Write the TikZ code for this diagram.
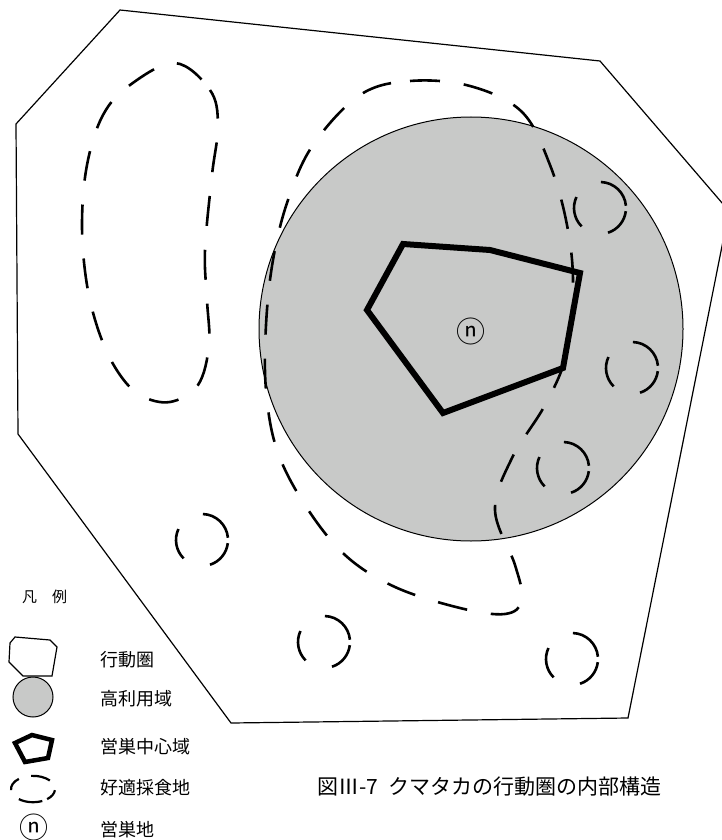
\documentclass[tikz,border=0pt]{standalone}
\usepackage{fontspec}
\setmainfont{Noto Sans CJK JP}
\usepackage{xcolor}
\usepackage{tikz}
\usetikzlibrary{positioning}

\definecolor{usegray}{RGB}{200,201,200}

\begin{document}
\begin{tikzpicture}[
  x=1pt, y=-1pt,
  font=\fontsize{18}{22}\selectfont,
  homerange/.style={draw,line width=1.2pt,line join=miter},
  core/.style={draw,line width=6pt,line join=miter},
  heavy/.style={draw,fill=usegray,line width=1pt},
  forage/.style={draw,line width=2.6pt,dash pattern=on 30pt off 24pt},
  spotarc/.style={line width=2.6pt},
  spot/.pic={
    \draw[spotarc] (-88:26) arc (-88:-5:26);
    \draw[spotarc] (7:26) arc (7:72:26);
    \draw[spotarc] (135:26) arc (135:205:26);
  },
  nestmark/.style={inner sep=0pt,font=\fontsize{29}{29}\selectfont},
  legtext/.style={anchor=west,inner sep=0pt}
]
\useasboundingbox (0,0) rectangle (721,840);

% high use area
\fill[usegray] (471,329) circle (212);
\draw[line width=1pt] (471,329) circle (212);

% home range
\draw[homerange] (120,10) -- (600,61) -- (729,211) -- (628,718) -- (231,723)
  -- (18,434) -- (16,124) -- cycle;

% nest centre area
\draw[core] (403,244) -- (490,250) -- (580,273) -- (563,368) -- (443,413)
  -- (367,310) -- cycle;
\node[nestmark] (nest) at (471,331) {ⓝ};

% feeding grounds
\draw[forage] plot[smooth cycle,tension=0.6] coordinates {
  (360,95) (410,81) (470,86) (522,112) (550,165) (567,225) (573,285)
  (566,355) (545,405) (512,458) (495,510) (515,565) (522,600) (505,614)
  (460,608) (395,587) (345,555) (305,505) (277,450) (266,390) (266,325)
  (273,260) (288,200) (313,145)};
\draw[forage] plot[smooth cycle,tension=0.6] coordinates {
  (175,63) (210,90) (218,125) (212,175) (205,250) (207,300) (209,345)
  (198,385) (170,402) (140,395) (118,372) (100,335) (87,285) (82,225)
  (87,165) (103,115) (130,85)};
\foreach \p in {(600,208),(632,368),(563,468),(202,540),(324,642),(572,659)}
  \pic at \p {spot};

% legend
\node[legtext,font=\fontsize{15}{18}\selectfont] (legend) at (22,597) {凡　例};
\draw[line width=1.2pt] (15,637) -- (50,640) -- (57,647) -- (52,676)
  -- (23,676) -- (9,662) -- (10,643) -- cycle;
\node[legtext] (lrange) at (100,660) {行動圏};
\draw[heavy] (33,697) circle (20);
\node[legtext] (lhigh) at (100,699) {高利用域};
\draw[line width=4.5pt,line join=miter] (15,743) -- (32,735) -- (52,740)
  -- (48,758) -- (25,762) -- cycle;
\node[legtext] (lcore) at (100,747) {営巣中心域};
\begin{scope}[shift={(33,789)},yscale=0.6,line width=2.2pt]
  \draw (-95:22) arc (-95:-40:22);
  \draw (-130:22) arc (-130:-185:22);
  \draw (130:22) arc (130:65:22);
  \draw (5:22) arc (5:50:22);
\end{scope}
\node[legtext] (lfeed) at (100,788) {好適採食地};
\node[nestmark] (lnestsym) at (34,827) {ⓝ};
\node[legtext] (lnest) at (100,830) {営巣地};

% caption
\node[anchor=west,inner sep=0pt,font=\fontsize{21}{24}\selectfont] (caption)
  at (317,787) {図Ⅲ-7\hspace{0.5em}クマタカの行動圏の内部構造};
\end{tikzpicture}
\end{document}
